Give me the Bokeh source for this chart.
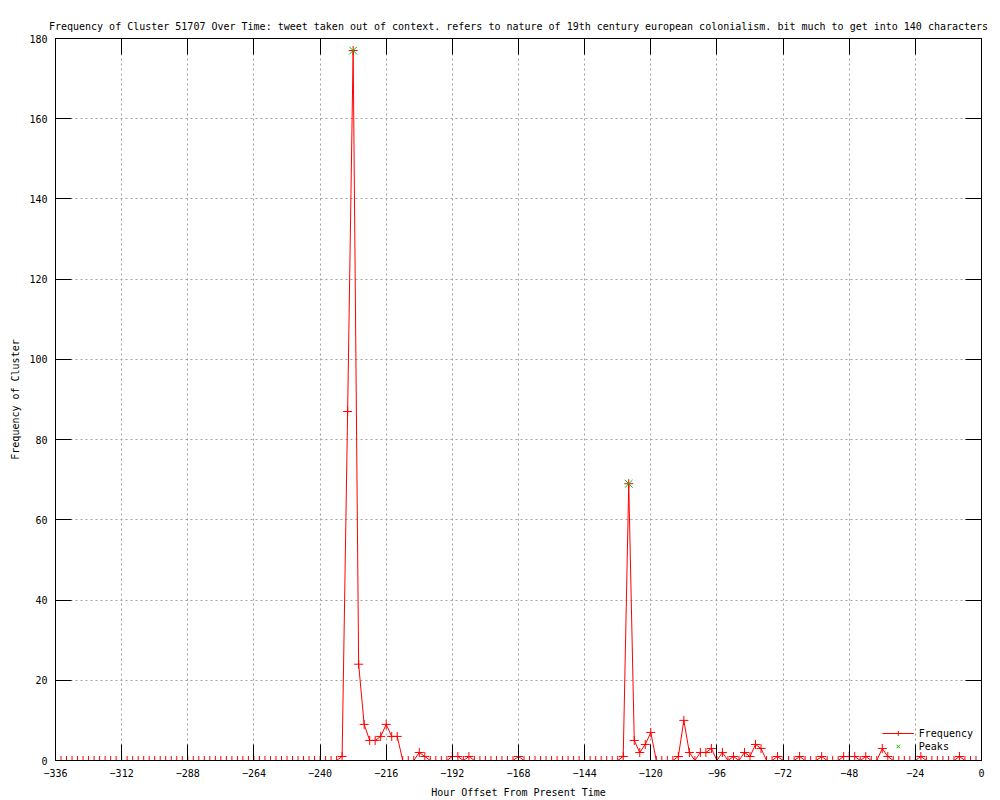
from bokeh.plotting import figure
from bokeh.models import Range1d, FixedTicker, LinearAxis, Legend, LegendItem, ColumnDataSource
from bokeh.embed import file_html
from bokeh.resources import INLINE

# hour offsets, one point every 2 hours
hours = list(range(-336, 1, 2))
# frequency per 2-hour bin (rows of 12 = 24 hours)
frequency = [
    0, 0, 0, 0, 0, 0, 0, 0, 0, 0, 0, 0,        # -336 .. -314
    0, 0, 0, 0, 0, 0, 0, 0, 0, 0, 0, 0,        # -312 .. -290
    0, 0, 0, 0, 0, 0, 0, 0, 0, 0, 0, 0,        # -288 .. -266
    0, 0, 0, 0, 0, 0, 0, 0, 0, 0, 0, 0,        # -264 .. -242
    0, 0, 0, 0, 1, 87, 177, 24, 9, 5, 5, 6,    # -240 .. -218
    9, 6, 6, 0, 0, 0, 2, 1, 0, 0, 0, 0,        # -216 .. -194
    1, 1, 0, 1, 0, 0, 0, 0, 0, 0, 0, 0,        # -192 .. -170
    1, 0, 0, 0, 0, 0, 0, 0, 0, 0, 0, 0,        # -168 .. -146
    0, 0, 0, 0, 0, 0, 0, 1, 69, 5, 2, 4,       # -144 .. -122
    7, 0, 0, 0, 0, 1, 10, 2, 0, 2, 2, 3,       # -120 .. -98
    0, 2, 0, 1, 0, 2, 1, 4, 3, 0, 0, 1,        # -96 .. -74
    0, 0, 0, 1, 0, 0, 0, 1, 0, 0, 0, 1,        # -72 .. -50
    1, 1, 0, 1, 0, 0, 3, 1, 0, 0, 0, 0,        # -48 .. -26
    0, 1, 0, 0, 0, 0, 0, 0, 1, 0, 0, 0,        # -24 .. -2
    0,                                         # 0
]
peak_hours = [-228, -128]
peak_values = [177, 69]

x_ticks = list(range(-336, 1, 24))
y_ticks = list(range(0, 181, 20))

TITLE = ("Frequency of Cluster 51707 Over Time: tweet taken out of context. refers to nature "
         "of 19th century european colonialism. bit much to get into 140 characters")
FONT = "DejaVu Sans Mono"

p = figure(width=1000, height=800, output_backend="svg", toolbar_location=None,
           x_range=Range1d(-336, 0), y_range=Range1d(0, 180),
           min_border_left=55, min_border_right=19, min_border_top=38, min_border_bottom=40,
           background_fill_color="white", border_fill_color="white")

p.title.text = TITLE
p.title.text_font = FONT
p.title.text_font_size = "10px"
p.title.text_font_style = "normal"
p.title.text_color = "black"
p.title.align = "center"
p.title.standoff = 14

p.outline_line_color = "black"
p.outline_line_width = 1

src = ColumnDataSource(dict(x=hours, y=frequency))
ln = p.line("x", "y", source=src, line_color="#ff0000", line_width=1)
mk = p.scatter("x", "y", source=src, marker="cross", size=9, line_color="#ff0000", line_width=1)
pk = p.scatter(peak_hours, peak_values, marker="x", size=11, line_color="#00c000", line_width=1)

for ax in (p.xaxis[0], p.yaxis[0]):
    ax.major_label_text_font = FONT
    ax.major_label_text_font_size = "10px"
    ax.major_label_text_color = "black"
    ax.axis_label_text_font = FONT
    ax.axis_label_text_font_size = "10px"
    ax.axis_label_text_font_style = "normal"
    ax.axis_label_text_color = "black"
    ax.axis_line_color = "black"
    ax.major_tick_in = 16
    ax.major_tick_out = 0
    ax.major_tick_line_color = "black"
    ax.minor_tick_line_color = None

p.xaxis[0].ticker = FixedTicker(ticks=x_ticks)
p.yaxis[0].ticker = FixedTicker(ticks=y_ticks)
p.xaxis[0].axis_label = "Hour Offset From Present Time"
p.yaxis[0].axis_label = "Frequency of Cluster"
p.xaxis[0].major_label_standoff = 8
p.xaxis[0].axis_label_standoff = 7
p.yaxis[0].major_label_standoff = 8
p.yaxis[0].axis_label_standoff = 5

for side, ticks in (("above", x_ticks), ("right", y_ticks)):
    ax = LinearAxis(ticker=FixedTicker(ticks=ticks), major_label_text_font_size="0px",
                    major_label_text_color=None,
                    major_label_standoff=0, axis_line_color="black",
                    major_tick_in=16, major_tick_out=0, minor_tick_line_color=None)
    p.add_layout(ax, side)

p.xgrid.ticker = FixedTicker(ticks=x_ticks)
p.ygrid.ticker = FixedTicker(ticks=y_ticks)
for g in (p.xgrid, p.ygrid):
    g.grid_line_color = "#a0a0a0"
    g.grid_line_dash = "2 3"
    g.grid_line_width = 1

legend = Legend(items=[LegendItem(label="Frequency", renderers=[ln, mk]),
                       LegendItem(label="Peaks", renderers=[pk])],
                location="bottom_right")
legend.label_text_font = FONT
legend.label_text_font_size = "10px"
legend.label_text_color = "black"
legend.label_height = 12
legend.glyph_height = 12
legend.glyph_width = 32
legend.spacing = 1
legend.padding = 0
legend.margin = 8
legend.border_line_color = None
legend.background_fill_alpha = 0
p.add_layout(legend)

open("out.html", "w").write(file_html(p, INLINE))
